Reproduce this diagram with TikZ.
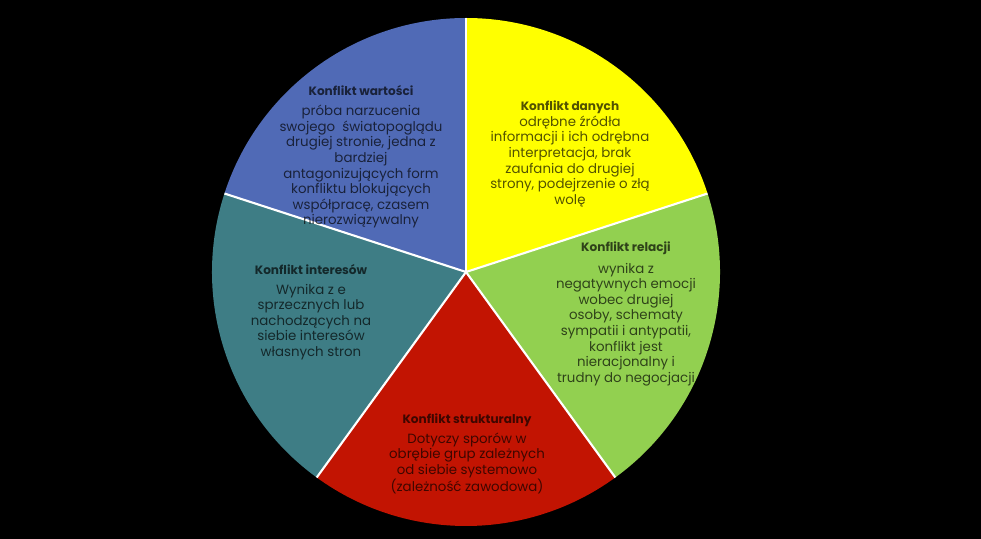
\documentclass[tikz,border=0pt]{standalone}
\usepackage{fontspec}
\setmainfont{Poppins}
\usetikzlibrary{positioning}

\definecolor{valblue}{RGB}{80,106,182}
\definecolor{datyellow}{RGB}{255,255,0}
\definecolor{relgreen}{RGB}{146,208,80}
\definecolor{strred}{RGB}{194,20,2}
\definecolor{intteal}{RGB}{62,125,133}

\newcommand{\ttl}[1]{{\fontsize{8.6}{11}\selectfont\bfseries\color{black}#1}}

\begin{document}
\begin{tikzpicture}[x=0.025cm, y=0.025cm,
	sep/.style={draw=white, line width=1.5pt},
	txt/.style={align=center, font=\fontsize{9.5}{11.1}\selectfont, text=black, text opacity=0.68}]
	\fill[black] (0,0) rectangle (981,539);
	\useasboundingbox (0,0) rectangle (981,539);
	\coordinate (c) at (466,267);

	\fill[valblue] (c) -- ++(90:254) arc[start angle=90, end angle=162, radius=254] -- cycle;
	\fill[intteal] (c) -- ++(162:254) arc[start angle=162, end angle=234, radius=254] -- cycle;
	\fill[strred] (c) -- ++(234:254) arc[start angle=234, end angle=306, radius=254] -- cycle;
	\fill[relgreen] (c) -- ++(306:254) arc[start angle=306, end angle=378, radius=254] -- cycle;
	\fill[datyellow] (c) -- ++(18:254) arc[start angle=18, end angle=90, radius=254] -- cycle;

	\draw[sep] (c) -- ++(90:254);
	\draw[sep] (c) -- ++(162:254);
	\draw[sep] (c) -- ++(234:254);
	\draw[sep] (c) -- ++(306:254);
	\draw[sep] (c) -- ++(18:254);

	\node[txt] (val) at (361,382) {\ttl{Konflikt wartości}\\[3pt]
		próba narzucenia\\ swojego\ \ światopoglądu\\ drugiej stronie, jedna z\\ bardziej\\
		antagonizujących form\\ konfliktu blokujących\\ współpracę, czasem\\ nierozwiązywalny};
	\node[txt] (dat) at (570,385) {\ttl{Konflikt danych}\\
		odrębne źródła\\ informacji i ich odrębna\\ interpretacja, brak\\
		zaufania do drugiej\\ strony, podejrzenie o złą\\ wolę};
	\node[txt] (rel) at (626,225) {\ttl{Konflikt relacji}\\[4pt]
		wynika z\\ negatywnych emocji\\ wobec drugiej\\ osoby, schematy\\
		sympatii i antypatii,\\ konflikt jest\\ nieracjonalny i\\ trudny do negocjacji};
	\node[txt] (int) at (311,227) {\ttl{Konflikt interesów}\\[3pt]
		Wynika z e\\ sprzecznych lub\\ nachodzących na\\ siebie interesów\\ własnych stron};
	\node[txt] (str) at (467,85) {\ttl{Konflikt strukturalny}\\[3pt]
		Dotyczy sporów w\\ obrębie grup zależnych\\ od siebie systemowo\\ (zależność zawodowa)};
\end{tikzpicture}
\end{document}
